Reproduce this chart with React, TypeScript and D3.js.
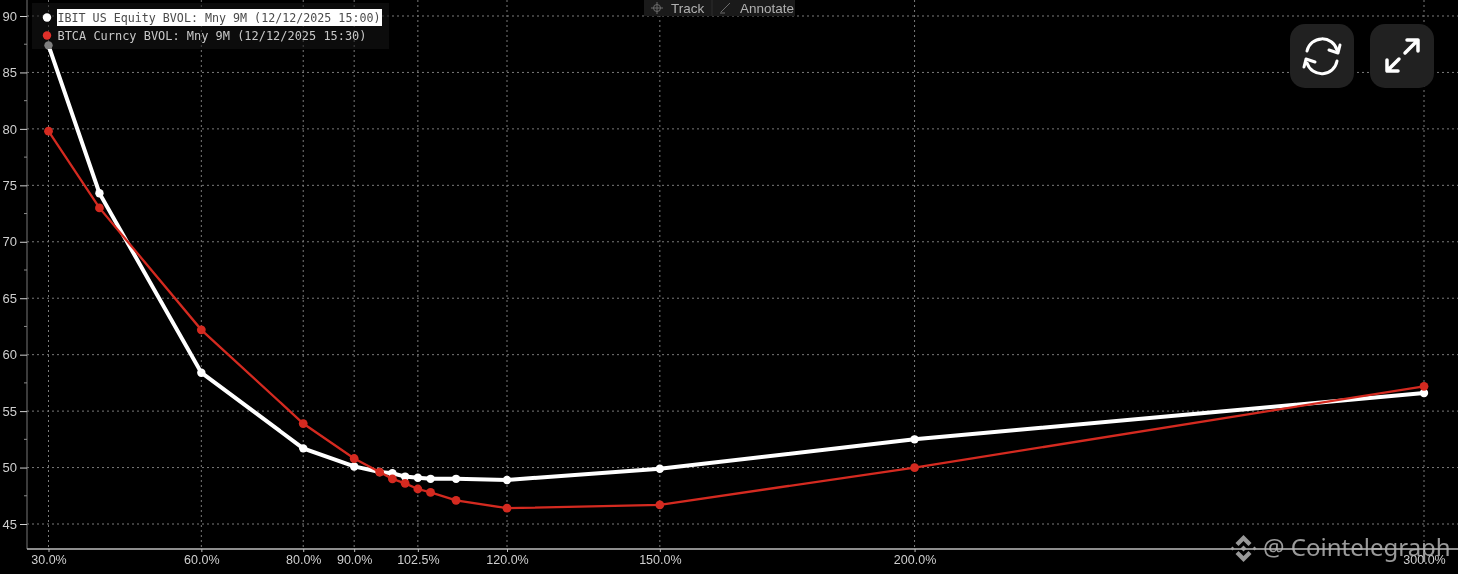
import React, { useRef, useEffect } from "react";
import * as d3 from "d3";

const moneyness = [30, 40, 60, 80, 90, 95, 97.5, 100, 102.5, 105, 110, 120, 150, 200, 300];
const ibitVol = [87.4, 74.3, 58.4, 51.7, 50.1, 49.6, 49.5, 49.2, 49.1, 49.0, 49.0, 48.9, 49.9, 52.5, 56.6];
const btcaVol = [79.8, 73.0, 62.2, 53.9, 50.8, 49.6, 49.0, 48.6, 48.1, 47.8, 47.1, 46.4, 46.7, 50.0, 57.2];
const xTicks = [30, 60, 80, 90, 102.5, 120, 150, 200, 300];
const yTicks = [45, 50, 55, 60, 65, 70, 75, 80, 85, 90];
const yMinorTicks = [47.5, 52.5, 57.5, 62.5, 67.5, 72.5, 77.5, 82.5, 87.5];
const legendLabels = [
  "IBIT US Equity BVOL: Mny 9M (12/12/2025 15:00)",
  "BTCA Curncy BVOL: Mny 9M (12/12/2025 15:30)",
];
const legendWidths = [323, 309];

const WIDTH = 1458;
const HEIGHT = 574;
const AXIS_X = 27;
const AXIS_Y = 549;
const LABEL_FONT = "'Liberation Sans', sans-serif";
const MONO_FONT = "'DejaVu Sans Mono', monospace";

const App = () => {
  const ref = useRef<SVGSVGElement>(null);

  useEffect(() => {
    const svg = d3.select(ref.current);
    svg.selectAll("*").remove();

    const x = d3.scaleLinear().domain([30, 300]).range([48.5, 1424]);
    const y = d3.scaleLinear().domain([45, 90]).range([524, 16]);

    svg.append("rect").attr("width", WIDTH).attr("height", HEIGHT).attr("fill", "#000");

    // the source is a soft screenshot, everything but the overlay buttons is a bit blurred
    const plot = svg.append("g").style("filter", "blur(0.45px)");

    // dotted grid
    const grid = plot.append("g").attr("stroke", "#7a7a7a").attr("stroke-dasharray", "2 3");
    grid.selectAll("line.v").data(xTicks).join("line")
      .attr("x1", d => x(d)).attr("x2", d => x(d))
      .attr("y1", 0).attr("y2", AXIS_Y);
    grid.selectAll("line.h").data(yTicks).join("line")
      .attr("x1", AXIS_X).attr("x2", WIDTH)
      .attr("y1", d => y(d)).attr("y2", d => y(d));

    // y axis
    const yAxis = plot.append("g").attr("transform", `translate(${AXIS_X},0)`)
      .call(d3.axisLeft(y).tickValues(yTicks).tickSize(7).tickPadding(3).tickFormat(d3.format("d")));
    yAxis.select(".domain").attr("d", `M0,0V${AXIS_Y}`).attr("stroke", "#777").attr("stroke-width", 1);
    yAxis.selectAll(".tick line").attr("stroke", "#d0d0d0");
    yAxis.selectAll(".tick text").attr("fill", "#cfcfcf").attr("font-family", LABEL_FONT).attr("font-size", 13);
    plot.append("g").selectAll("line").data(yMinorTicks).join("line")
      .attr("x1", AXIS_X - 3).attr("x2", AXIS_X)
      .attr("y1", d => y(d)).attr("y2", d => y(d))
      .attr("stroke", "#8a8a8a");

    // x axis
    const xAxis = plot.append("g").attr("transform", `translate(0,${AXIS_Y})`)
      .call(d3.axisBottom(x).tickValues(xTicks).tickSize(3).tickPadding(3).tickFormat(d => `${d3.format(".1f")(d as number)}%`));
    xAxis.select(".domain").attr("d", `M${AXIS_X},0H${WIDTH}`).attr("stroke", "#bdbdbd").attr("stroke-width", 1.5);
    xAxis.selectAll(".tick line").attr("stroke", "#bdbdbd");
    xAxis.selectAll(".tick text").attr("fill", "#cfcfcf").attr("font-family", LABEL_FONT).attr("font-size", 12.5);

    const line = d3.line<number>()
      .x((_, i) => x(moneyness[i]))
      .y(d => y(d));

    const drawSeries = (values: number[], color: string, width: number, r: number) => {
      plot.append("path").datum(values)
        .attr("fill", "none").attr("stroke", color).attr("stroke-width", width)
        .attr("d", line);
      plot.append("g").selectAll("circle").data(values).join("circle")
        .attr("cx", (_, i) => x(moneyness[i]))
        .attr("cy", d => y(d))
        .attr("r", r)
        .attr("fill", color);
    };
    drawSeries(ibitVol, "#ffffff", 4, 4.2);
    drawSeries(btcaVol, "#d42a20", 2.3, 4.4);

    // legend sits over the plot and dims what is under it
    plot.append("rect").attr("x", 32).attr("y", 3).attr("width", 357).attr("height", 46)
      .attr("fill", "#161616").attr("fill-opacity", 0.55);
    plot.append("rect").attr("x", 57).attr("y", 9).attr("width", 325).attr("height", 17).attr("fill", "#fff");
    legendLabels.forEach((label, i) => {
      const rowY = 17.5 + i * 18;
      plot.append("circle").attr("cx", 47).attr("cy", rowY).attr("r", 4.2)
        .attr("fill", i === 0 ? "#ffffff" : "#e0302a");
      plot.append("text").attr("x", 57.5).attr("y", rowY + 4.5)
        .attr("font-family", MONO_FONT).attr("font-size", 12.2)
        .attr("textLength", legendWidths[i]).attr("lengthAdjust", "spacingAndGlyphs")
        .attr("fill", i === 0 ? "#4a4a4a" : "#c8c8c8")
        .text(label);
    });

    // Track / Annotate bar
    plot.append("rect").attr("x", 644).attr("y", 0).attr("width", 151).attr("height", 16).attr("fill", "#1a1a1a");
    plot.append("line").attr("x1", 712).attr("x2", 712).attr("y1", 0).attr("y2", 16).attr("stroke", "#2c2c2c");
    const tool = plot.append("g").attr("stroke", "#6a6a6a").attr("fill", "none");
    tool.append("circle").attr("cx", 657).attr("cy", 8).attr("r", 3.5);
    tool.append("path").attr("d", "M657,2V14M651,8H663");
    tool.append("path").attr("d", "M721,12L730,3");
    tool.append("path").attr("d", "M720,13H725");
    plot.append("text").attr("x", 671).attr("y", 12.5).attr("fill", "#b0b0b0")
      .attr("font-family", LABEL_FONT).attr("font-size", 13.5).text("Track");
    plot.append("text").attr("x", 740).attr("y", 12.5).attr("fill", "#b0b0b0")
      .attr("font-family", LABEL_FONT).attr("font-size", 13.5).text("Annotate");

    // refresh and expand buttons
    [1290, 1370].forEach(bx => {
      svg.append("rect").attr("x", bx).attr("y", 24).attr("width", 64).attr("height", 64)
        .attr("rx", 15).attr("fill", "#212121");
    });
    const icons = svg.append("g").attr("fill", "none").attr("stroke", "#fff").attr("stroke-width", 3)
      .attr("stroke-linecap", "round").attr("stroke-linejoin", "round");
    icons.append("path").attr("d", "M1307,51A15.5,15.5 0 0 1 1337,50");
    icons.append("path").attr("d", "M1329,50L1338,53L1340,45");
    icons.append("path").attr("d", "M1337,61A15.5,15.5 0 0 1 1307,63");
    icons.append("path").attr("d", "M1315,62L1306,59L1304,67");
    icons.append("path").attr("d", "M1405,53L1418,40M1407,40H1418V51").attr("stroke-width", 3.5);
    icons.append("path").attr("d", "M1399,59L1387,71M1387,60V71H1398").attr("stroke-width", 3.5);

    // watermark
    const mark = svg.append("g").attr("fill", "#a8a8a8").attr("fill-opacity", 0.9);
    mark.append("path").attr("d", "M1243.500,535L1251.500,543L1248.500,546L1243.500,541L1238.500,546L1235.500,543Z");
    mark.append("path").attr("d", "M1243.500,562L1251.500,554L1248.500,551L1243.500,556L1238.500,551L1235.500,554Z");
    mark.append("path").attr("d", "M1243.500,545.500L1246.500,548.500L1243.500,551.500L1240.500,548.500Z");
    mark.append("path").attr("d", "M1232.500,546.500L1234.500,548.500L1232.500,550.500L1230.500,548.500Z");
    mark.append("path").attr("d", "M1254.500,546.500L1256.500,548.500L1254.500,550.500L1252.500,548.500Z");
    svg.append("text").attr("x", 1263).attr("y", 556)
      .attr("font-family", "'Noto Sans', sans-serif").attr("font-size", 24)
      .attr("fill", "#b4b4b4").attr("fill-opacity", 0.85)
      .text("@ Cointelegraph");
  }, []);

  return <svg ref={ref} width={WIDTH} height={HEIGHT} style={{ position: "fixed", left: 0, top: 0 }}></svg>;
};

export default App;
